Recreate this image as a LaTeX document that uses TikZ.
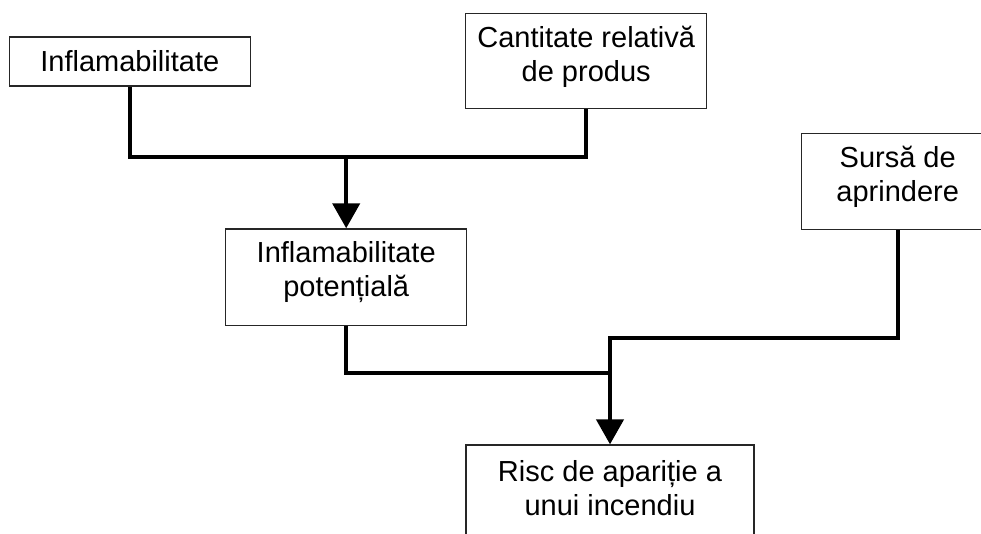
\documentclass[tikz,border=0pt]{standalone}
\usepackage{fontspec}
\setmainfont{Liberation Sans}
\usetikzlibrary{arrows.meta}

% text block of a box: width, height, first baseline offset, lines
\newcommand{\boxtext}[4]{\parbox[c][#2pt][t]{#1pt}{\centering\rule{0pt}{#3pt}#4}}

\tikzset{
  box/.style={draw=black!85, line width=1.3pt, fill=white, inner sep=0pt,
              font=\fontsize{29}{34}\selectfont},
  link/.style={line width=4.3pt, draw=black},
  flowarrow/.style={link, -{Triangle[width=27pt, length=25pt]}}
}

\begin{document}
\begin{tikzpicture}[x=1pt, y=-1pt]
  \useasboundingbox (0,0) rectangle (981,533);
  \clip (0,0) rectangle (981,533);

  % boxes
  \node[box] (infl)   at (129.8,61.5)  {\boxtext{241}{49}{34}{Inflamabilitate}};
  \node[box] (cant)   at (586.2,61)    {\boxtext{241}{95.4}{34}{Cantitate relativă\\de produs}};
  \node[box] (sursa)  at (897.7,181.3) {\boxtext{192}{96}{34}{Sursă de\\aprindere}};
  \node[box] (infpot) at (346.2,277.3) {\boxtext{241}{96.7}{34}{Inflamabilitate\\potențială}};
  \node[box] (risc)   at (610,493)     {\boxtext{288}{96}{36}{Risc de apariție a\\unui incendiu}};

  % junction points of the connectors
  \coordinate (j1) at (346.2,157);
  \coordinate (j2) at (610,373);
  \coordinate (j3) at (610,338);

  % connectors
  \draw[link] (infl.south) |- (j1) -| (cant.south);
  \draw[flowarrow] (j1) -- (infpot.north);
  \draw[link] (infpot.south) |- (j2);
  \draw[flowarrow] (sursa.south) |- (j3) -- (risc.north);
\end{tikzpicture}
\end{document}
